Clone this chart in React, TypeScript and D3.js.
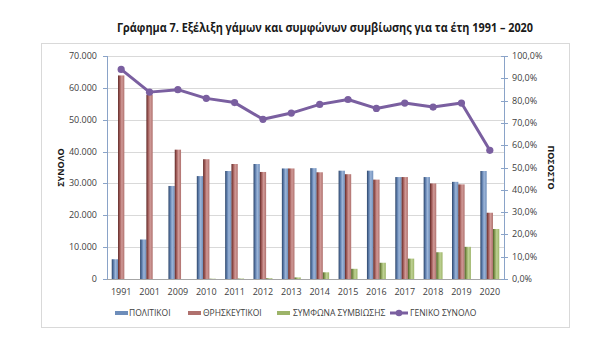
import React from "react";
import * as d3 from "d3";

const years = ["1991","2001","2009","2010","2011","2012","2013","2014","2015","2016","2017","2018","2019","2020"];
const politikoi = [6200,12400,29200,32300,33900,36100,34700,34800,34000,34000,32000,32000,30500,33900];
const thriskeutikoi = [63900,57800,40600,37600,36100,33600,34700,33500,32900,31200,32000,30000,29700,20800];
const symfona = [0,0,0,100,150,250,500,2100,3200,5100,6400,8400,10100,15700];
const genikoPct = [94.0,83.8,84.9,81.0,79.1,71.6,74.4,78.3,80.5,76.5,78.9,77.1,78.9,57.7];
const leftTicks = [0,10000,20000,30000,40000,50000,60000,70000];
const rightTicks = [0,10,20,30,40,50,60,70,80,90,100];
const seriesNames = ["ΠΟΛΙΤΙΚΟΙ","ΘΡΗΣΚΕΥΤΙΚΟΙ","ΣΥΜΦΩΝΑ ΣΥΜΒΙΩΣΗΣ","ΓΕΝΙΚΟ ΣΥΝΟΛΟ"];
const title = "Γράφημα 7. Εξέλιξη γάμων και συμφώνων συμβίωσης για τα έτη 1991 – 2020";

const W = 600, H = 361;
const L = 107, R = 504, T = 56, B = 279;
const font = "'Open Sans', 'Liberation Sans', sans-serif";

const fmtInt = (v: number) => d3.format(",")(v).replace(/,/g, ".");
const fmtPct = (v: number) => v.toFixed(1).replace(".", ",") + "%";

export default function App() {
  const x = d3.scaleBand<string>().domain(years).range([L, R]).padding(0);
  const y = d3.scaleLinear().domain([0, 70000]).range([B, T]);
  const yP = d3.scaleLinear().domain([0, 100]).range([B, T]);
  const bw = 6.3;
  const series = [
    { vals: politikoi, grad: "gBlue" },
    { vals: thriskeutikoi, grad: "gRed" },
    { vals: symfona, grad: "gGreen" },
  ];
  const line = d3.line<number>()
    .x((_, i) => (x(years[i]) as number) + x.bandwidth() / 2)
    .y((d) => yP(d));
  const axisColor = "#8aa3c8";
  const legendItems = [
    { x: 115, grad: "gBlue", tx: 129 },
    { x: 188, grad: "gRed", tx: 203 },
    { x: 277, grad: "gGreen", tx: 293 },
  ];
  return (
    <svg width={W} height={H} style={{ display: "block", position: "absolute", left: 0, top: 0 }}>
      <defs>
        <linearGradient id="gBlue" x1="0" x2="1" y1="0" y2="0">
          <stop offset="0" stopColor="#2c4468" />
          <stop offset="0.3" stopColor="#5f7fae" />
          <stop offset="0.6" stopColor="#9cb5d8" />
          <stop offset="1" stopColor="#6d8dba" />
        </linearGradient>
        <linearGradient id="gRed" x1="0" x2="1" y1="0" y2="0">
          <stop offset="0" stopColor="#5e2725" />
          <stop offset="0.3" stopColor="#a45f5c" />
          <stop offset="0.6" stopColor="#d09a97" />
          <stop offset="1" stopColor="#b0716e" />
        </linearGradient>
        <linearGradient id="gGreen" x1="0" x2="1" y1="0" y2="0">
          <stop offset="0" stopColor="#4e5c26" />
          <stop offset="0.3" stopColor="#8ba259" />
          <stop offset="0.6" stopColor="#bfd294" />
          <stop offset="1" stopColor="#9db469" />
        </linearGradient>
      </defs>
      <rect x={0} y={0} width={W} height={H} fill="#fff" />
      <text x={325} y={32} textAnchor="middle" fontFamily={font} fontWeight="bold" fontSize={11.5}
        textLength={416} lengthAdjust="spacingAndGlyphs" fill="#1a1a1a">{title}</text>
      <rect x={41.5} y={43.5} width={528} height={284} fill="none" stroke="#d9d9d9" strokeWidth={1} />
      {leftTicks.filter((t) => t > 0).map((t) => (
        <line key={t} x1={L} x2={R} y1={Math.round(y(t)) + 0.5} y2={Math.round(y(t)) + 0.5} stroke="#d9d9d9" />
      ))}
      {series.map((s, si) =>
        s.vals.map((v, i) => {
          const cx = (x(years[i]) as number) + x.bandwidth() / 2;
          const bx = cx - 1.5 * bw + si * bw;
          return <rect key={si + "-" + i} x={bx} y={y(v)} width={bw} height={B - y(v)} fill={`url(#${s.grad})`} />;
        })
      )}
      <line x1={L} x2={R} y1={B + 0.5} y2={B + 0.5} stroke="#a6a6a6" />
      <line x1={L + 0.5} x2={L + 0.5} y1={T} y2={B} stroke={axisColor} />
      {leftTicks.map((t) => (
        <g key={t}>
          <line x1={L - 4} x2={L} y1={Math.round(y(t)) + 0.5} y2={Math.round(y(t)) + 0.5} stroke={axisColor} />
          <text x={97} y={y(t) + 3} textAnchor="end" fontFamily={font} fontSize={9} fill="#404040">{fmtInt(t)}</text>
        </g>
      ))}
      <line x1={R + 0.5} x2={R + 0.5} y1={T} y2={B} stroke={axisColor} />
      {rightTicks.map((t) => (
        <g key={t}>
          <line x1={R - 3} x2={R + 4} y1={Math.round(yP(t)) + 0.5} y2={Math.round(yP(t)) + 0.5} stroke={axisColor} />
          <text x={512} y={yP(t) + 3} textAnchor="start" fontFamily={font} fontSize={9} fill="#404040">{fmtPct(t)}</text>
        </g>
      ))}
      {years.map((yr) => (
        <text key={yr} x={(x(yr) as number) + x.bandwidth() / 2} y={295} textAnchor="middle" fontFamily={font} fontSize={9} fill="#404040">{yr}</text>
      ))}
      <path d={line(genikoPct) || ""} fill="none" stroke="#7a5fa0" strokeWidth={3} strokeLinejoin="round" />
      {genikoPct.map((v, i) => (
        <circle key={i} cx={(x(years[i]) as number) + x.bandwidth() / 2} cy={yP(v)} r={3.6} fill="#7a5fa0" />
      ))}
      <text transform={`translate(64,${(T + B) / 2}) rotate(-90)`} textAnchor="middle" fontFamily={font} fontWeight="bold" fontSize={9} fill="#1a1a1a">ΣΥΝΟΛΟ</text>
      <text transform={`translate(548,${(T + B) / 2}) rotate(90)`} textAnchor="middle" fontFamily={font} fontWeight="bold" fontSize={9} fill="#1a1a1a">ΠΟΣΟΣΤΟ</text>
      {legendItems.map((it, i) => (
        <g key={i}>
          <rect x={it.x} y={311} width={13} height={4} fill={`url(#${it.grad})`} transform={`rotate(90 ${it.x + 6.5} 313)`} style={{ display: "none" }} />
          <rect x={it.x} y={311} width={13} height={4} fill={it.grad === "gBlue" ? "#6d8dba" : it.grad === "gRed" ? "#b0716e" : "#9db469"} />
          <text x={it.tx} y={316} fontFamily={font} fontSize={8.5} fill="#404040">{seriesNames[i]}</text>
        </g>
      ))}
      <line x1={390} x2={408} y1={313} y2={313} stroke="#7a5fa0" strokeWidth={3} />
      <circle cx={399} cy={313} r={3.3} fill="#7a5fa0" />
      <text x={410} y={316} fontFamily={font} fontSize={8.5} fill="#404040">{seriesNames[3]}</text>
    </svg>
  );
}
